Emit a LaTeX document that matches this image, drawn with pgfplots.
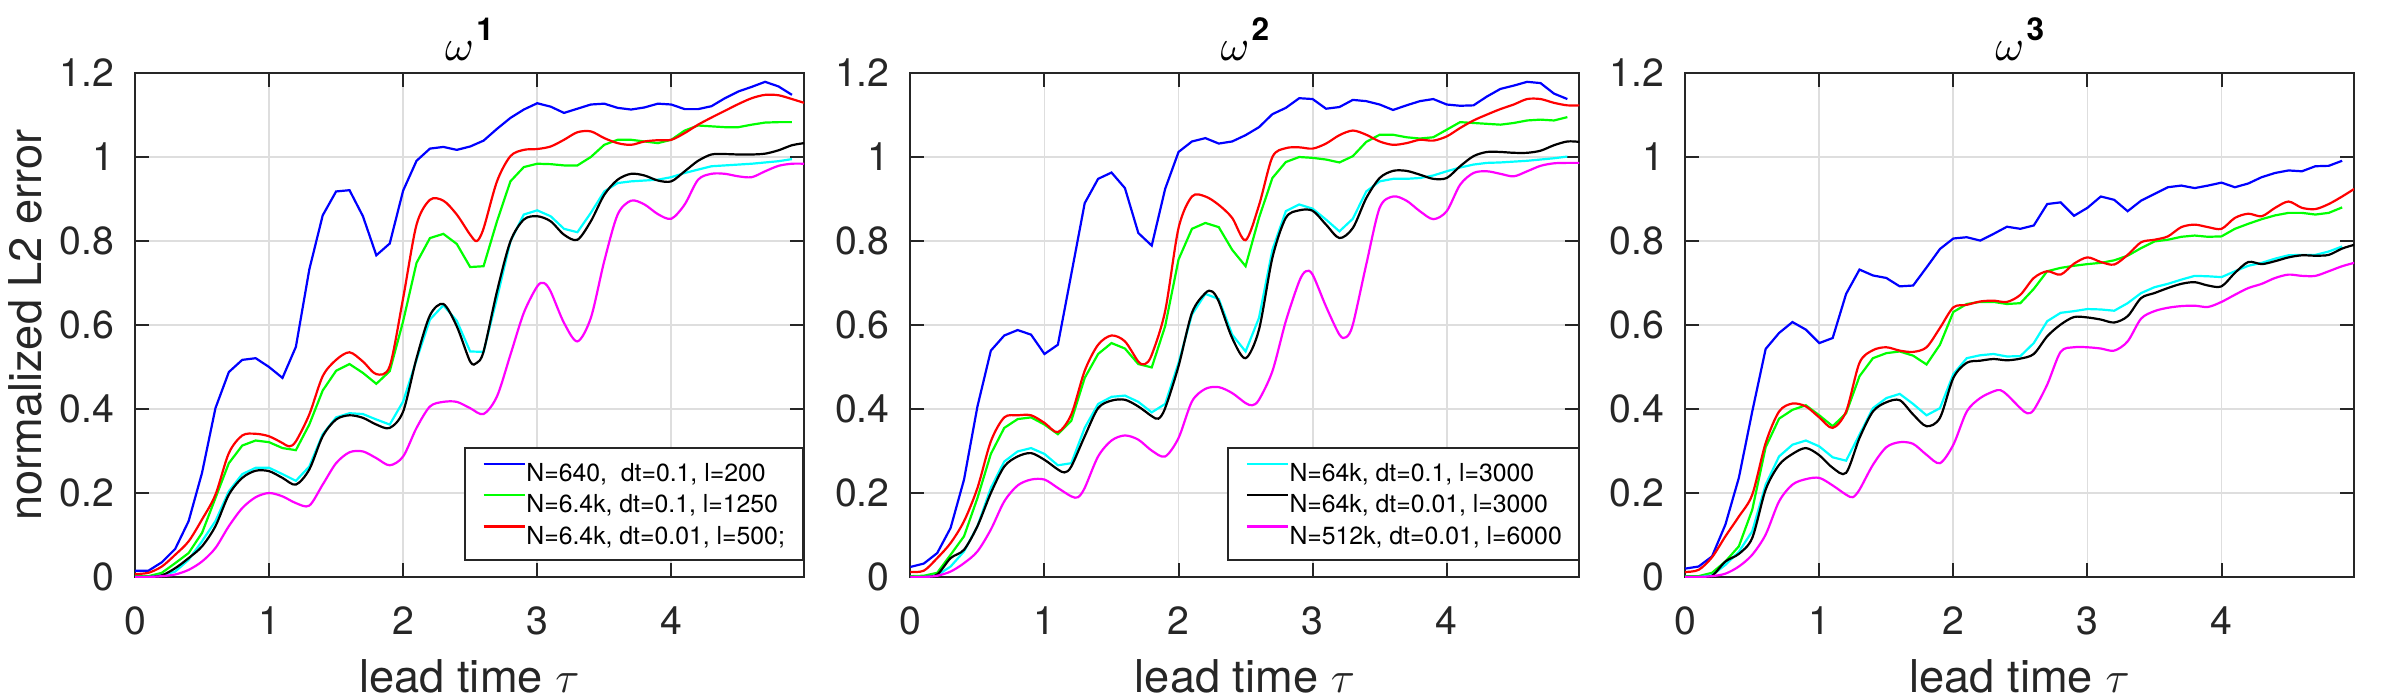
\documentclass[border=0pt]{standalone}
\usepackage{fontspec}
\setmainfont{TeX Gyre Heros}
\usepackage{pgfplots}
\pgfplotsset{compat=1.18}
\definecolor{axgray}{gray}{0.15}
\definecolor{gridgray}{gray}{0.87}
\definecolor{mblue}{rgb}{0,0,1}
\definecolor{mgreen}{rgb}{0,1,0}
\definecolor{mred}{rgb}{1,0,0}
\definecolor{mcyan}{rgb}{0,1,1}
\definecolor{mblack}{rgb}{0,0,0}
\definecolor{mmag}{rgb}{1,0,1}
\pgfplotsset{
  panel/.style={
    scale only axis, width=167.25pt, height=126pt,
    xmin=0, xmax=4.99, ymin=0, ymax=1.2,
    xtick={0,1,2,3,4}, ytick={0,0.2,0.4,0.6,0.8,1,1.2},
    tick align=inside, tick pos=both, xticklabel pos=lower, yticklabel pos=left,
    major tick length=3.5pt,
    grid=major, major grid style={gridgray, line width=0.45pt},
    axis line style={axgray, line width=0.5pt},
    every tick/.style={axgray, line width=0.5pt},
    /pgf/number format/assume math mode=true,
    tick label style={font=\fontsize{9.8}{10}\selectfont, text=axgray},
    xticklabel style={inner sep=0pt, anchor=north, yshift=-7.25pt},
    yticklabel style={inner sep=0pt, anchor=east, xshift=-5pt},
    every axis title/.style={at={(axis description cs:0.5,1)}, anchor=base, yshift=3.25pt, inner sep=0pt, font=\fontsize{11}{12}\selectfont, text=black},
    every axis x label/.style={at={(axis description cs:0.5,0)}, anchor=base, yshift=-28.75pt, inner sep=0pt, font=\fontsize{11.3}{12}\selectfont, text=axgray},
    every axis y label/.style={at={(axis description cs:-0.1396,0.5)}, anchor=base, rotate=90, inner sep=0pt, font=\fontsize{11.3}{12}\selectfont, text=axgray},
    xlabel={lead time $\tau$},
    every axis plot/.append style={line width=0.55pt},
    legend image code/.code={\draw[#1, line width=0.55pt] (0pt,2.2pt) -- (10.4pt,2.2pt);},
    legend style={anchor=north west, draw=axgray, line width=0.5pt, fill=white,
      font=\fontsize{6.2}{7}\selectfont, inner xsep=4.4pt, inner ysep=2.3pt,
      row sep=0pt, nodes={inner sep=0pt, text height=6.1pt, text depth=1.7pt},
      /tikz/column 2/.style={column sep=3.3pt}},
    legend cell align=left,
  }
}
\begin{document}
\begin{tikzpicture}
\useasboundingbox (0,0) rectangle (600pt,174.5pt);
% ---------------- panel 1 ----------------
\begin{axis}[panel, at={(33.75pt,30.25pt)}, anchor=south west,
  title={$\omega$\hspace{0.6pt}\raisebox{5pt}{\fontsize{7.9}{8}\selectfont\bfseries 1}},
  ylabel={normalized L2 error},
  legend style={at={(0.4918,0.2579)}}]
\addplot[mblue] coordinates {(0,0.015)(0.1,0.015)(0.2,0.035)(0.3,0.067)(0.4,0.133)(0.5,0.248)(0.6,0.402)(0.7,0.488)(0.8,0.517)(0.9,0.521)(1.0,0.50)(1.1,0.474)(1.2,0.548)(1.3,0.732)(1.4,0.861)(1.5,0.918)(1.6,0.921)(1.7,0.859)(1.8,0.766)(1.9,0.794)(2.0,0.92)(2.1,0.991)(2.2,1.02)(2.3,1.024)(2.4,1.017)(2.5,1.025)(2.6,1.039)(2.7,1.067)(2.8,1.093)(2.9,1.113)(3.0,1.128)(3.1,1.120)(3.2,1.105)(3.3,1.115)(3.4,1.125)(3.5,1.127)(3.6,1.117)(3.7,1.113)(3.8,1.118)(3.9,1.127)(4.0,1.125)(4.1,1.114)(4.2,1.114)(4.3,1.121)(4.4,1.140)(4.5,1.156)(4.6,1.167)(4.7,1.179)(4.8,1.168)(4.9,1.148)};
\addlegendentry{N=640,\ \ dt=0.1, l=200}
\addplot[mgreen] coordinates {(0,0.002)(0.1,0.002)(0.2,0.01)(0.3,0.033)(0.4,0.057)(0.5,0.105)(0.6,0.188)(0.7,0.271)(0.8,0.313)(0.9,0.325)(1.0,0.321)(1.1,0.307)(1.2,0.302)(1.3,0.363)(1.4,0.444)(1.5,0.491)(1.6,0.507)(1.7,0.486)(1.8,0.46)(1.9,0.49)(2.0,0.609)(2.1,0.748)(2.2,0.807)(2.3,0.817)(2.4,0.793)(2.5,0.738)(2.6,0.74)(2.7,0.847)(2.8,0.942)(2.9,0.976)(3.0,0.984)(3.1,0.983)(3.2,0.98)(3.3,0.98)(3.4,1.0)(3.5,1.029)(3.6,1.041)(3.7,1.041)(3.8,1.037)(3.9,1.033)(4.0,1.041)(4.1,1.063)(4.2,1.075)(4.3,1.073)(4.4,1.071)(4.5,1.071)(4.6,1.077)(4.7,1.082)(4.8,1.083)(4.9,1.083)};
\addlegendentry{N=6.4k, dt=0.1, l=1250}
\addplot[mred, smooth] coordinates {(0,0.007)(0.1,0.01)(0.2,0.025)(0.3,0.053)(0.4,0.085)(0.5,0.137)(0.6,0.196)(0.7,0.295)(0.8,0.337)(0.9,0.341)(1.0,0.335)(1.1,0.319)(1.15,0.311)(1.2,0.323)(1.3,0.387)(1.4,0.478)(1.5,0.517)(1.6,0.535)(1.7,0.513)(1.8,0.483)(1.9,0.502)(2.0,0.664)(2.1,0.839)(2.2,0.898)(2.3,0.896)(2.4,0.863)(2.5,0.815)(2.55,0.80)(2.6,0.83)(2.7,0.942)(2.8,1.002)(2.9,1.017)(3.0,1.019)(3.1,1.025)(3.2,1.041)(3.3,1.059)(3.4,1.061)(3.5,1.045)(3.6,1.033)(3.7,1.029)(3.8,1.037)(3.9,1.04)(4.0,1.041)(4.1,1.057)(4.2,1.077)(4.3,1.094)(4.4,1.110)(4.5,1.126)(4.6,1.140)(4.7,1.148)(4.8,1.147)(4.9,1.138)(4.99,1.129)};
\addlegendentry{N=6.4k, dt=0.01, l=500;}
\addplot[mcyan, forget plot] coordinates {(0,0)(0.1,0)(0.2,0.004)(0.3,0.013)(0.4,0.041)(0.5,0.085)(0.6,0.133)(0.7,0.204)(0.8,0.245)(0.9,0.26)(1.0,0.26)(1.1,0.245)(1.2,0.229)(1.3,0.263)(1.4,0.34)(1.5,0.38)(1.6,0.39)(1.7,0.388)(1.8,0.375)(1.9,0.363)(2.0,0.418)(2.1,0.517)(2.2,0.613)(2.3,0.647)(2.4,0.61)(2.5,0.537)(2.6,0.536)(2.7,0.664)(2.8,0.799)(2.9,0.863)(3.0,0.873)(3.1,0.859)(3.2,0.829)(3.3,0.821)(3.4,0.867)(3.5,0.918)(3.6,0.938)(3.7,0.942)(3.8,0.944)(3.9,0.946)(4.0,0.952)(4.1,0.962)(4.2,0.97)(4.3,0.978)(4.4,0.98)(4.5,0.982)(4.6,0.984)(4.7,0.987)(4.8,0.99)(4.9,0.995)};
\addplot[mblack, smooth, forget plot] coordinates {(0,0)(0.1,0)(0.2,0.004)(0.3,0.021)(0.4,0.045)(0.5,0.073)(0.6,0.121)(0.7,0.196)(0.8,0.236)(0.9,0.253)(1.0,0.252)(1.1,0.236)(1.2,0.22)(1.3,0.256)(1.4,0.335)(1.5,0.375)(1.6,0.385)(1.7,0.379)(1.8,0.363)(1.9,0.355)(2.0,0.394)(2.1,0.521)(2.2,0.623)(2.3,0.65)(2.4,0.597)(2.5,0.513)(2.55,0.51)(2.6,0.537)(2.7,0.68)(2.8,0.799)(2.9,0.851)(3.0,0.859)(3.1,0.847)(3.2,0.815)(3.3,0.803)(3.4,0.847)(3.5,0.91)(3.6,0.946)(3.7,0.96)(3.8,0.956)(3.9,0.944)(4.0,0.942)(4.1,0.966)(4.2,0.991)(4.3,1.006)(4.4,1.007)(4.5,1.006)(4.6,1.006)(4.7,1.008)(4.8,1.016)(4.9,1.028)(4.99,1.033)};
\addplot[mmag, smooth, forget plot] coordinates {(0,0)(0.1,0)(0.2,0.002)(0.3,0.006)(0.4,0.017)(0.5,0.037)(0.6,0.069)(0.7,0.121)(0.8,0.164)(0.9,0.19)(1.0,0.2)(1.1,0.192)(1.2,0.176)(1.3,0.170)(1.4,0.22)(1.5,0.271)(1.6,0.297)(1.7,0.299)(1.8,0.283)(1.9,0.266)(2.0,0.287)(2.1,0.355)(2.2,0.406)(2.3,0.417)(2.4,0.417)(2.5,0.402)(2.6,0.388)(2.7,0.43)(2.8,0.529)(2.9,0.629)(3.0,0.692)(3.05,0.70)(3.1,0.68)(3.2,0.605)(3.3,0.561)(3.4,0.617)(3.5,0.752)(3.6,0.863)(3.7,0.896)(3.8,0.887)(3.9,0.864)(4.0,0.853)(4.1,0.887)(4.2,0.946)(4.3,0.96)(4.4,0.96)(4.5,0.954)(4.6,0.952)(4.7,0.966)(4.8,0.979)(4.9,0.984)(4.99,0.984)};
\end{axis}
% ---------------- panel 2 ----------------
\begin{axis}[panel, at={(227.6pt,30.25pt)}, anchor=south west,
  title={$\omega$\hspace{0.6pt}\raisebox{5pt}{\fontsize{7.9}{8}\selectfont\bfseries 2}},
  legend style={at={(0.4734,0.2579)}}]
\addplot[mblue, forget plot] coordinates {(0,0.024)(0.1,0.032)(0.2,0.057)(0.3,0.117)(0.4,0.232)(0.5,0.406)(0.6,0.539)(0.7,0.575)(0.8,0.588)(0.9,0.577)(1.0,0.531)(1.1,0.553)(1.2,0.721)(1.3,0.89)(1.4,0.948)(1.5,0.963)(1.6,0.926)(1.7,0.819)(1.8,0.789)(1.9,0.924)(2.0,1.012)(2.1,1.037)(2.2,1.045)(2.3,1.032)(2.4,1.037)(2.5,1.052)(2.6,1.071)(2.7,1.102)(2.8,1.117)(2.9,1.14)(3.0,1.138)(3.1,1.115)(3.2,1.119)(3.3,1.136)(3.4,1.133)(3.5,1.125)(3.6,1.112)(3.7,1.123)(3.8,1.133)(3.9,1.138)(4.0,1.125)(4.1,1.122)(4.2,1.123)(4.3,1.144)(4.4,1.162)(4.5,1.17)(4.6,1.179)(4.7,1.176)(4.8,1.151)(4.9,1.138)};
\addplot[mgreen, forget plot] coordinates {(0,0.002)(0.1,0.003)(0.2,0.01)(0.3,0.053)(0.4,0.097)(0.5,0.188)(0.6,0.293)(0.7,0.355)(0.8,0.376)(0.9,0.38)(1.0,0.363)(1.1,0.34)(1.2,0.372)(1.3,0.474)(1.4,0.531)(1.5,0.557)(1.6,0.544)(1.7,0.507)(1.8,0.499)(1.9,0.597)(2.0,0.756)(2.1,0.829)(2.2,0.843)(2.3,0.833)(2.4,0.779)(2.5,0.74)(2.6,0.855)(2.7,0.95)(2.8,0.988)(2.9,1.0)(3.0,0.998)(3.1,0.994)(3.2,0.987)(3.3,1.002)(3.4,1.036)(3.5,1.053)(3.6,1.053)(3.7,1.047)(3.8,1.044)(3.9,1.047)(4.0,1.065)(4.1,1.083)(4.2,1.081)(4.3,1.079)(4.4,1.077)(4.5,1.081)(4.6,1.087)(4.7,1.089)(4.8,1.087)(4.9,1.095)};
\addplot[mred, smooth, forget plot] coordinates {(0,0.012)(0.1,0.015)(0.2,0.045)(0.3,0.081)(0.4,0.133)(0.5,0.212)(0.6,0.323)(0.7,0.38)(0.8,0.385)(0.9,0.385)(1.0,0.367)(1.1,0.345)(1.2,0.387)(1.3,0.491)(1.4,0.553)(1.5,0.575)(1.6,0.561)(1.7,0.513)(1.75,0.507)(1.8,0.529)(1.9,0.633)(2.0,0.831)(2.1,0.906)(2.2,0.906)(2.3,0.886)(2.4,0.855)(2.5,0.802)(2.6,0.885)(2.7,1.0)(2.8,1.021)(2.9,1.023)(3.0,1.02)(3.1,1.032)(3.2,1.052)(3.3,1.063)(3.4,1.053)(3.5,1.037)(3.6,1.029)(3.7,1.033)(3.8,1.041)(3.9,1.039)(4.0,1.049)(4.1,1.069)(4.2,1.087)(4.3,1.101)(4.4,1.114)(4.5,1.125)(4.6,1.138)(4.7,1.138)(4.8,1.129)(4.9,1.123)(4.99,1.123)};
\addplot[mcyan] coordinates {(0,0)(0.1,0)(0.2,0.004)(0.3,0.025)(0.4,0.061)(0.5,0.121)(0.6,0.212)(0.7,0.275)(0.8,0.299)(0.9,0.307)(1.0,0.293)(1.1,0.266)(1.2,0.271)(1.3,0.355)(1.4,0.412)(1.5,0.429)(1.6,0.432)(1.7,0.417)(1.8,0.392)(1.9,0.412)(2.0,0.51)(2.1,0.625)(2.2,0.674)(2.3,0.662)(2.4,0.577)(2.5,0.537)(2.6,0.617)(2.7,0.779)(2.8,0.871)(2.9,0.887)(3.0,0.877)(3.1,0.851)(3.2,0.823)(3.3,0.853)(3.4,0.918)(3.5,0.942)(3.6,0.948)(3.7,0.948)(3.8,0.95)(3.9,0.956)(4.0,0.966)(4.1,0.975)(4.2,0.982)(4.3,0.986)(4.4,0.987)(4.5,0.989)(4.6,0.991)(4.7,0.994)(4.8,0.997)(4.9,1.001)};
\addlegendentry{N=64k, dt=0.1, l=3000}
\addplot[mblack, smooth] coordinates {(0,0)(0.1,0)(0.2,0.006)(0.3,0.045)(0.4,0.065)(0.5,0.121)(0.6,0.2)(0.7,0.263)(0.8,0.287)(0.9,0.295)(1.0,0.279)(1.1,0.256)(1.15,0.249)(1.2,0.263)(1.3,0.335)(1.4,0.402)(1.5,0.42)(1.6,0.422)(1.7,0.406)(1.8,0.383)(1.85,0.377)(1.9,0.402)(2.0,0.502)(2.1,0.629)(2.2,0.676)(2.25,0.68)(2.3,0.656)(2.4,0.569)(2.5,0.521)(2.6,0.589)(2.7,0.76)(2.8,0.855)(2.9,0.873)(3.0,0.872)(3.1,0.839)(3.2,0.807)(3.3,0.831)(3.4,0.902)(3.5,0.95)(3.6,0.967)(3.7,0.967)(3.8,0.958)(3.9,0.948)(4.0,0.95)(4.1,0.978)(4.2,1.002)(4.3,1.012)(4.4,1.012)(4.5,1.01)(4.6,1.01)(4.7,1.015)(4.8,1.028)(4.9,1.037)(4.99,1.036)};
\addlegendentry{N=64k, dt=0.01, l=3000}
\addplot[mmag, smooth] coordinates {(0,0)(0.1,0)(0.2,0.003)(0.3,0.013)(0.4,0.033)(0.5,0.061)(0.6,0.113)(0.7,0.18)(0.8,0.218)(0.9,0.232)(1.0,0.232)(1.1,0.212)(1.2,0.192)(1.25,0.19)(1.3,0.212)(1.4,0.287)(1.5,0.325)(1.6,0.337)(1.7,0.327)(1.8,0.301)(1.9,0.287)(2.0,0.331)(2.1,0.418)(2.2,0.448)(2.3,0.452)(2.4,0.438)(2.5,0.414)(2.55,0.409)(2.6,0.422)(2.7,0.49)(2.8,0.609)(2.9,0.704)(2.95,0.728)(3.0,0.72)(3.1,0.644)(3.2,0.577)(3.25,0.571)(3.3,0.601)(3.4,0.744)(3.5,0.879)(3.6,0.906)(3.7,0.896)(3.8,0.871)(3.9,0.852)(4.0,0.871)(4.1,0.934)(4.2,0.962)(4.3,0.966)(4.4,0.96)(4.5,0.954)(4.6,0.966)(4.7,0.979)(4.8,0.985)(4.9,0.986)(4.99,0.986)};
\addlegendentry{N=512k, dt=0.01, l=6000}
\end{axis}
% ---------------- panel 3 ----------------
\begin{axis}[panel, at={(421.3pt,30.25pt)}, anchor=south west,
  title={$\omega$\hspace{0.6pt}\raisebox{5pt}{\fontsize{7.9}{8}\selectfont\bfseries 3}}]
\addplot[mblue] coordinates {(0,0.02)(0.1,0.025)(0.2,0.049)(0.3,0.125)(0.4,0.236)(0.5,0.394)(0.6,0.543)(0.7,0.581)(0.8,0.607)(0.9,0.589)(1.0,0.557)(1.1,0.569)(1.2,0.674)(1.3,0.732)(1.4,0.718)(1.5,0.712)(1.6,0.692)(1.7,0.694)(1.8,0.737)(1.9,0.781)(2.0,0.806)(2.1,0.809)(2.2,0.801)(2.3,0.817)(2.4,0.834)(2.5,0.829)(2.6,0.837)(2.7,0.888)(2.8,0.892)(2.9,0.86)(3.0,0.879)(3.1,0.906)(3.2,0.898)(3.3,0.871)(3.4,0.896)(3.5,0.912)(3.6,0.928)(3.7,0.932)(3.8,0.926)(3.9,0.932)(4.0,0.939)(4.1,0.928)(4.2,0.937)(4.3,0.952)(4.4,0.962)(4.5,0.968)(4.6,0.966)(4.7,0.978)(4.8,0.979)(4.9,0.991)};
\addplot[mgreen] coordinates {(0,0.002)(0.1,0.002)(0.2,0.01)(0.3,0.037)(0.4,0.073)(0.5,0.16)(0.6,0.309)(0.7,0.377)(0.8,0.398)(0.9,0.409)(1.0,0.385)(1.1,0.359)(1.2,0.39)(1.3,0.478)(1.4,0.521)(1.5,0.533)(1.6,0.537)(1.7,0.527)(1.8,0.506)(1.9,0.553)(2.0,0.631)(2.1,0.65)(2.2,0.655)(2.3,0.655)(2.4,0.65)(2.5,0.652)(2.6,0.686)(2.7,0.728)(2.8,0.736)(2.9,0.741)(3.0,0.745)(3.1,0.748)(3.2,0.754)(3.3,0.765)(3.4,0.783)(3.5,0.799)(3.6,0.803)(3.7,0.81)(3.8,0.813)(3.9,0.81)(4.0,0.811)(4.1,0.829)(4.2,0.841)(4.3,0.852)(4.4,0.861)(4.5,0.867)(4.6,0.867)(4.7,0.863)(4.8,0.867)(4.9,0.88)};
\addplot[mred, smooth] coordinates {(0,0.012)(0.1,0.017)(0.2,0.047)(0.3,0.097)(0.4,0.144)(0.5,0.196)(0.6,0.319)(0.7,0.394)(0.8,0.413)(0.9,0.406)(1.0,0.38)(1.1,0.355)(1.2,0.394)(1.3,0.51)(1.4,0.54)(1.5,0.547)(1.6,0.539)(1.7,0.536)(1.8,0.547)(1.9,0.593)(2.0,0.642)(2.1,0.648)(2.2,0.656)(2.3,0.658)(2.4,0.655)(2.5,0.672)(2.6,0.712)(2.7,0.728)(2.8,0.72)(2.9,0.746)(3.0,0.761)(3.1,0.75)(3.2,0.744)(3.3,0.767)(3.4,0.797)(3.5,0.803)(3.6,0.811)(3.7,0.833)(3.8,0.839)(3.9,0.833)(4.0,0.829)(4.1,0.855)(4.2,0.865)(4.3,0.859)(4.4,0.879)(4.5,0.894)(4.6,0.879)(4.7,0.876)(4.8,0.888)(4.9,0.906)(4.99,0.924)};
\addplot[mcyan] coordinates {(0,0)(0.1,0)(0.2,0.004)(0.3,0.029)(0.4,0.06)(0.5,0.109)(0.6,0.22)(0.7,0.287)(0.8,0.315)(0.9,0.325)(1.0,0.311)(1.1,0.285)(1.2,0.277)(1.3,0.339)(1.4,0.402)(1.5,0.426)(1.6,0.436)(1.7,0.412)(1.8,0.385)(1.9,0.402)(2.0,0.483)(2.1,0.521)(2.2,0.528)(2.3,0.531)(2.4,0.525)(2.5,0.526)(2.6,0.557)(2.7,0.609)(2.8,0.629)(2.9,0.633)(3.0,0.638)(3.1,0.637)(3.2,0.634)(3.3,0.652)(3.4,0.676)(3.5,0.69)(3.6,0.698)(3.7,0.708)(3.8,0.717)(3.9,0.716)(4.0,0.714)(4.1,0.728)(4.2,0.741)(4.3,0.748)(4.4,0.758)(4.5,0.766)(4.6,0.767)(4.7,0.767)(4.8,0.775)(4.9,0.787)};
\addplot[mblack, smooth] coordinates {(0,0)(0.1,0)(0.2,0.003)(0.3,0.037)(0.4,0.055)(0.5,0.093)(0.6,0.208)(0.7,0.267)(0.8,0.293)(0.9,0.307)(1.0,0.29)(1.1,0.26)(1.2,0.248)(1.3,0.331)(1.4,0.394)(1.5,0.416)(1.6,0.421)(1.7,0.387)(1.8,0.359)(1.9,0.379)(2.0,0.474)(2.1,0.51)(2.2,0.515)(2.3,0.519)(2.4,0.516)(2.5,0.52)(2.6,0.531)(2.7,0.573)(2.8,0.601)(2.9,0.619)(3.0,0.618)(3.1,0.613)(3.2,0.606)(3.3,0.621)(3.4,0.664)(3.5,0.676)(3.6,0.688)(3.7,0.698)(3.8,0.702)(3.9,0.694)(4.0,0.692)(4.1,0.724)(4.2,0.75)(4.3,0.745)(4.4,0.752)(4.5,0.761)(4.6,0.766)(4.7,0.765)(4.8,0.767)(4.9,0.782)(4.99,0.791)};
\addplot[mmag, smooth] coordinates {(0,0)(0.1,0)(0.2,0.002)(0.3,0.008)(0.4,0.025)(0.5,0.053)(0.6,0.101)(0.7,0.18)(0.8,0.22)(0.9,0.233)(1.0,0.236)(1.1,0.218)(1.2,0.196)(1.25,0.19)(1.3,0.208)(1.4,0.267)(1.5,0.309)(1.6,0.321)(1.7,0.317)(1.8,0.291)(1.9,0.271)(2.0,0.315)(2.1,0.394)(2.2,0.426)(2.3,0.442)(2.35,0.445)(2.4,0.434)(2.5,0.402)(2.55,0.39)(2.6,0.398)(2.7,0.458)(2.8,0.536)(2.9,0.547)(3.0,0.547)(3.1,0.544)(3.2,0.539)(3.3,0.561)(3.4,0.615)(3.5,0.633)(3.6,0.641)(3.7,0.645)(3.8,0.646)(3.9,0.643)(4.0,0.655)(4.1,0.672)(4.2,0.688)(4.3,0.698)(4.4,0.712)(4.5,0.72)(4.6,0.717)(4.7,0.717)(4.8,0.728)(4.9,0.74)(4.99,0.748)};
\end{axis}
\end{tikzpicture}
\end{document}
